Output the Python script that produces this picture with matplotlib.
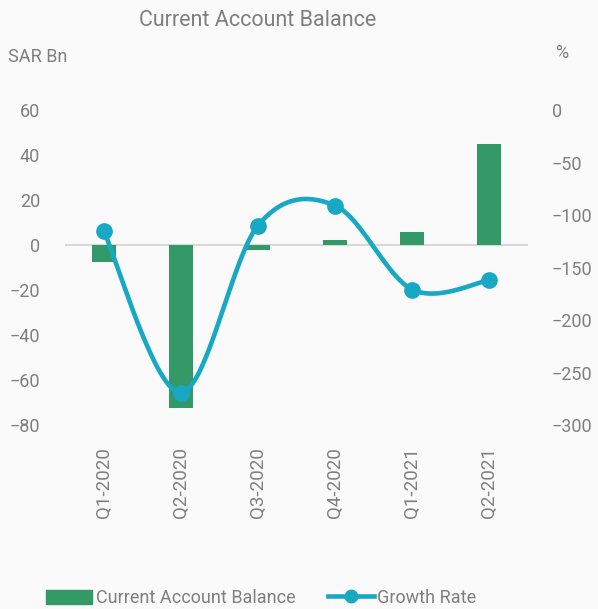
import numpy as np
import matplotlib
matplotlib.use('Agg')
import matplotlib.pyplot as plt
from matplotlib.lines import Line2D
from matplotlib.patches import Patch

quarters = ['Q1-2020', 'Q2-2020', 'Q3-2020', 'Q4-2020', 'Q1-2021', 'Q2-2021']
balance = [-7.5, -72.3, -2.4, 2.1, 5.6, 44.9]
growth = [-115, -269, -110, -91, -171, -162]

bar_color = '#339966'
line_color = '#17a8c3'
text_color = '#7f7f7f'

plt.rcParams['font.family'] = ['Roboto', 'DejaVu Sans']


def smooth(xs, ys, n=40):
    # bezier smoothing like a spreadsheet "smoothed line"
    xs = np.asarray(xs, float)
    ys = np.asarray(ys, float)
    px, py = [], []
    for i in range(len(xs) - 1):
        p0 = np.array([xs[max(i - 1, 0)], ys[max(i - 1, 0)]])
        p1 = np.array([xs[i], ys[i]])
        p2 = np.array([xs[i + 1], ys[i + 1]])
        p3 = np.array([xs[min(i + 2, len(xs) - 1)], ys[min(i + 2, len(xs) - 1)]])
        c1 = p1 + (p2 - p0) / 6
        c2 = p2 - (p3 - p1) / 6
        t = np.linspace(0, 1, n)[:, None]
        pts = (1 - t) ** 3 * p1 + 3 * (1 - t) ** 2 * t * c1 + 3 * (1 - t) * t ** 2 * c2 + t ** 3 * p2
        px.extend(pts[:, 0])
        py.extend(pts[:, 1])
    return px, py


fig = plt.figure(figsize=(5.98, 6.09), dpi=100, facecolor='#fafafa')
ax = fig.add_axes([0.1087, 0.302, 0.7743, 0.5174])
ax.set_facecolor('#fafafa')
x = np.arange(len(quarters))

ax.bar(x, balance, width=0.31, color=bar_color, zorder=2)
ax.axhline(0, color='#d9d9d9', lw=1.5, zorder=1)
ax.set_xlim(-0.5, 5.5)
ax.set_ylim(-80, 60)
ax.set_yticks(np.arange(-80, 61, 20))
ax.set_xticks(x)
ax.set_xticklabels(quarters, rotation=90, fontsize=13.5, color=text_color)
ax.tick_params(axis='y', colors=text_color, labelsize=13, length=0, pad=18)
ax.tick_params(axis='x', length=0, pad=16)
for s in ax.spines.values():
    s.set_visible(False)

ax2 = ax.twinx()
sx, sy = smooth(x, growth)
ax2.plot(sx, sy, color=line_color, lw=3.3, zorder=3, solid_capstyle='round')
ax2.plot(x, growth, 'o', color=line_color, ms=11, zorder=4)
ax2.set_ylim(-300, 0)
ax2.set_yticks(np.arange(-300, 1, 50))
ax2.tick_params(axis='y', colors=text_color, labelsize=13, length=0, pad=17)
for s in ax2.spines.values():
    s.set_visible(False)

fig.text(0.43, 0.966, 'Current Account Balance', ha='center', va='center', fontsize=15.5, color=text_color)
fig.text(0.013, 0.906, 'SAR Bn', ha='left', va='center', fontsize=13, color=text_color)
fig.text(0.94, 0.913, '%', ha='center', va='center', fontsize=13, color=text_color)

handles = [Patch(color=bar_color),
           Line2D([0], [0], color=line_color, lw=3.3, marker='o', ms=9)]
fig.legend(handles, ['Current Account Balance', 'Growth Rate'], loc='center',
           bbox_to_anchor=(0.437, 11 / 609), ncol=2, frameon=False, fontsize=13,
           labelcolor=text_color, handlelength=2.55, handleheight=0.85,
           handletextpad=0.2, columnspacing=1.8, borderpad=0)

fig.savefig('out.png', dpi=100, facecolor=fig.get_facecolor())
